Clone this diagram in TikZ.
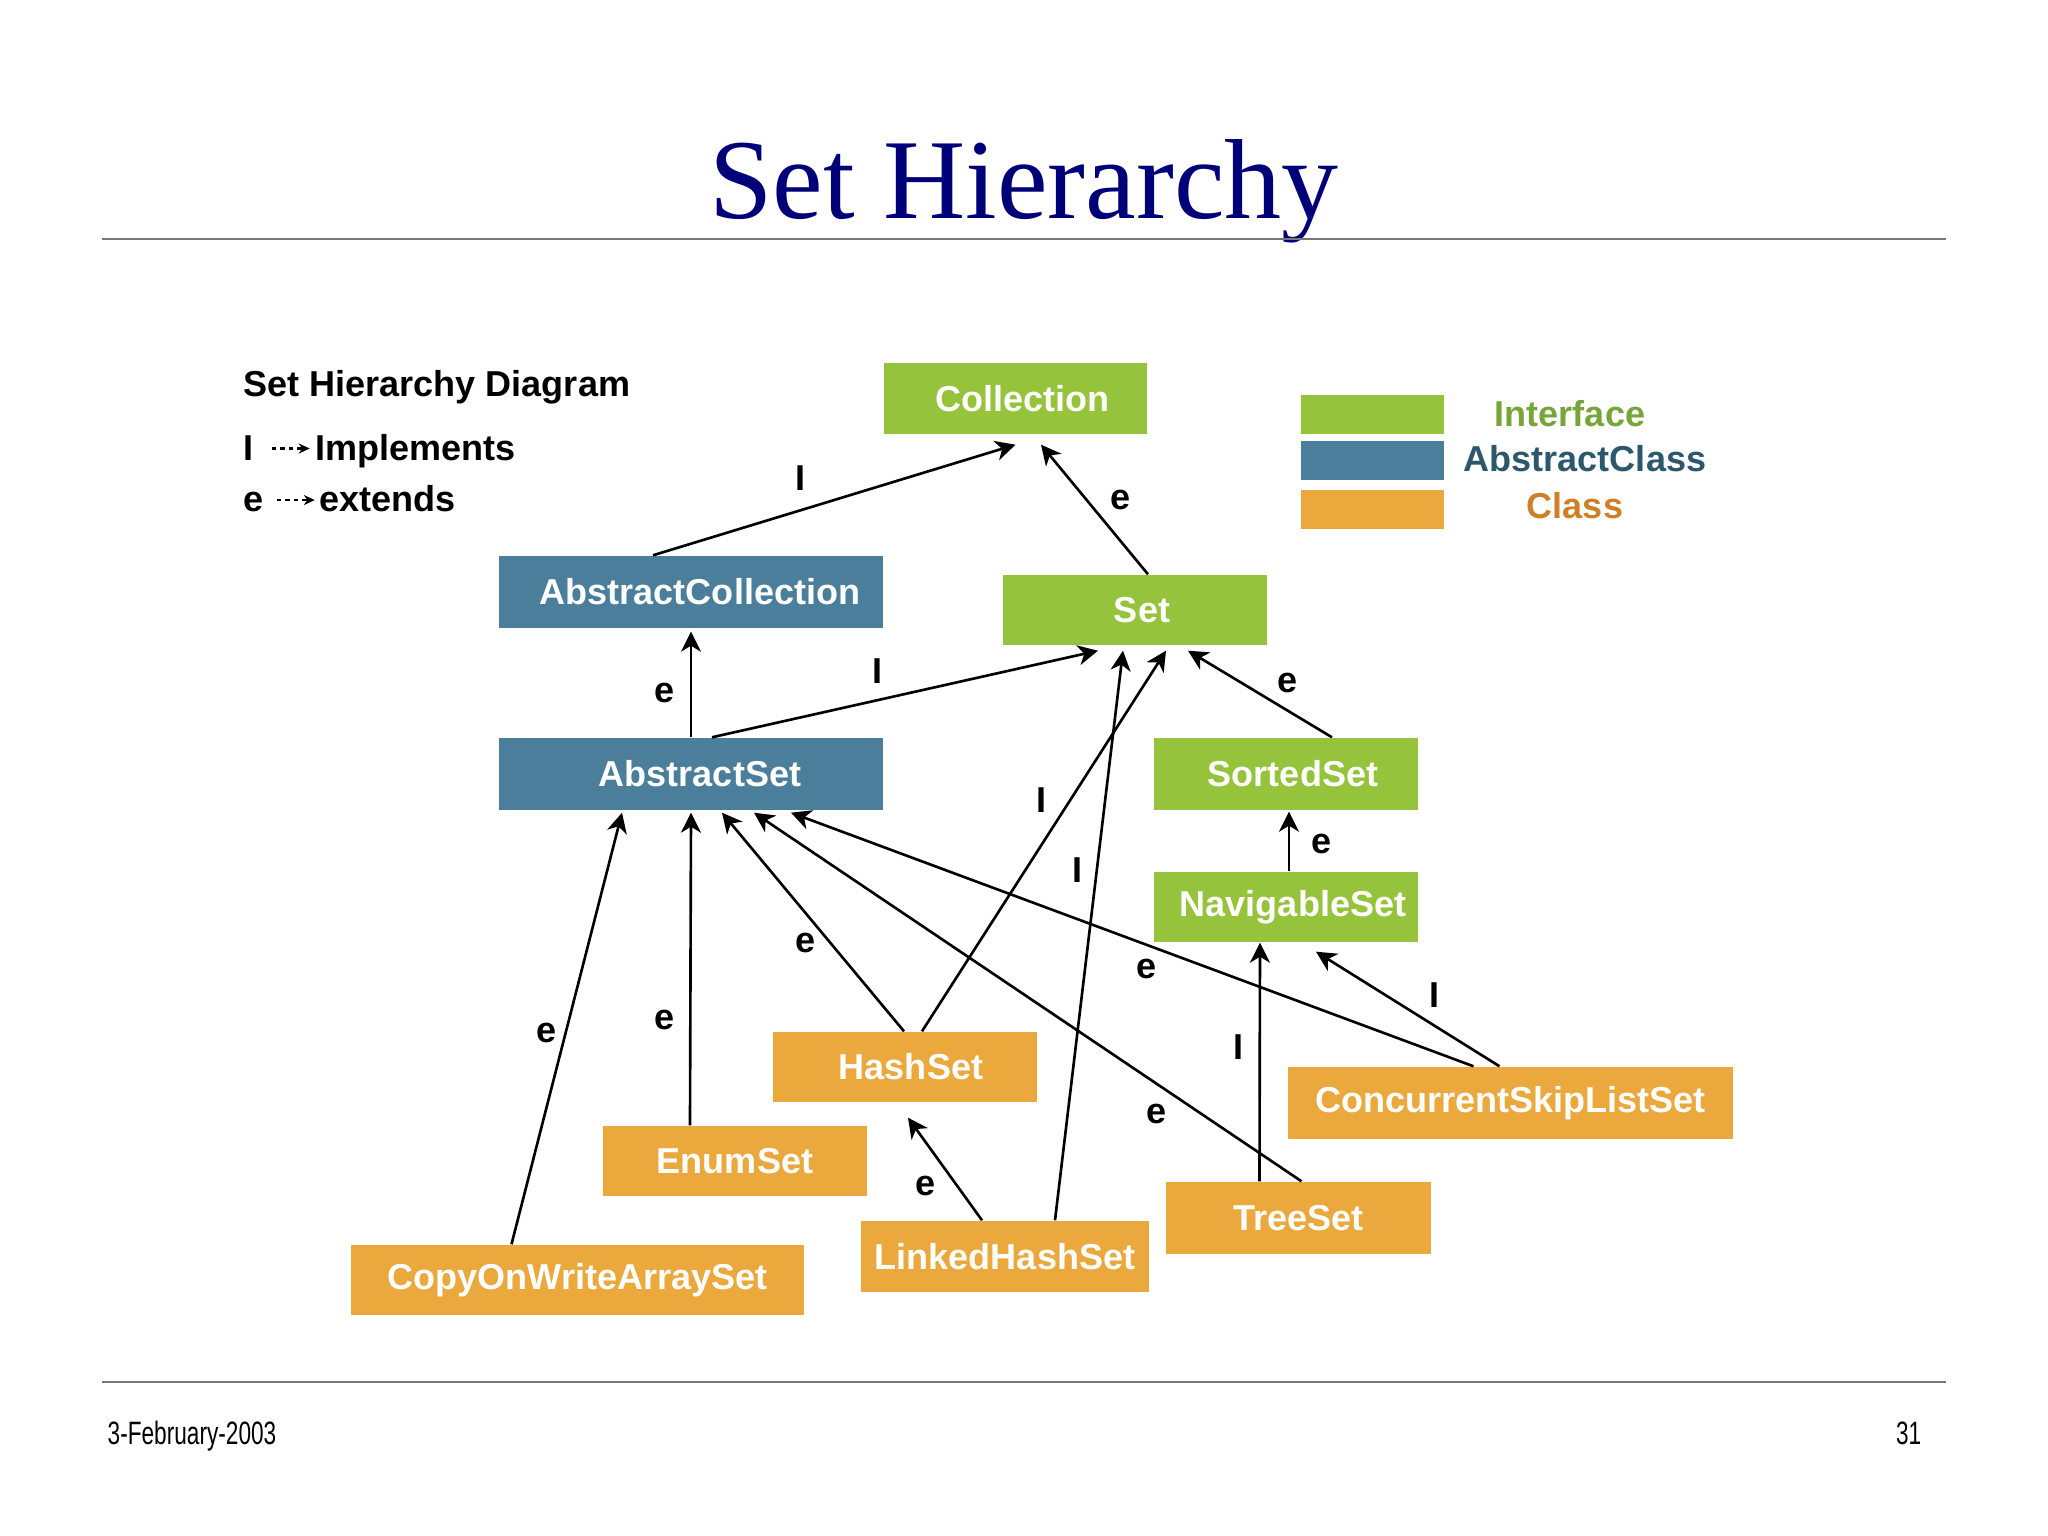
\documentclass[tikz,border=0pt]{standalone}
\usepackage{fontspec}
\usepackage{graphicx}
\setmainfont{Liberation Sans}
\newfontfamily\titlefont{Liberation Serif}
\usetikzlibrary{arrows.meta}

\definecolor{verde}{RGB}{150,195,60}
\definecolor{azul}{RGB}{74,126,155}
\definecolor{naranja}{RGB}{235,168,60}
\definecolor{marino}{RGB}{0,0,120}
\definecolor{txtverde}{RGB}{118,165,58}
\definecolor{txtazul}{RGB}{45,88,108}
\definecolor{txtnaranja}{RGB}{205,128,40}

\newcommand{\dasharrow}{\tikz[baseline=-0.62ex]\draw[dash pattern=on 1.3pt off 1.1pt, line width=0.6pt, -{Stealth[length=0.11cm,width=0.1cm]}] (0,0) -- (0.38,0);}

\begin{document}
\begin{tikzpicture}

	%STYLES
	\tikzstyle{every node}=[font=\fontsize{10.25}{12}\selectfont\bfseries]
	\tikzstyle{iface} = [fill=verde, text=white, minimum width=2.64cm, minimum height=0.71cm, inner sep=0pt, execute at begin node=\hspace*{0.14cm}]
	\tikzstyle{abst} = [fill=azul, text=white, minimum width=3.84cm, minimum height=0.72cm, inner sep=0pt, execute at begin node=\hspace*{0.18cm}]
	\tikzstyle{clase} = [fill=naranja, text=white, minimum width=2.64cm, minimum height=0.71cm, inner sep=0pt]
	\tikzstyle{swatch} = [minimum width=1.43cm, minimum height=0.39cm, inner sep=0pt]
	\tikzstyle{etiq} = [inner sep=0pt]
	\tikzstyle{flecha} = [-{Stealth[length=0.2cm,width=0.2cm,inset=0.06cm]}, line width=0.75pt]
	\tikzstyle{regla} = [draw={rgb,255:red,120; green,120; blue,120}, line width=0.6pt]

	\useasboundingbox (0,0) rectangle (20.48,-15.36);

	%HEADER AND FOOTER
	\draw(10.24,-2.19) node[anchor=base, text=marino, font=\titlefont\fontsize{32.4}{36}\selectfont](title){Set Hierarchy};
	\draw[regla] (1.02,-2.39) -- (19.46,-2.39);
	\draw[regla] (1.02,-13.82) -- (19.46,-13.82);
	\draw(1.07,-14.44) node[anchor=base west, inner sep=0pt, font=\fontsize{9.2}{10}\selectfont](date){\scalebox{0.7}[1]{3-February-2003}};
	\draw(19.22,-14.44) node[anchor=base east, inner sep=0pt, font=\fontsize{9.2}{10}\selectfont](page){\scalebox{0.7}[1]{31}};

	%LEGEND
	\draw(2.43,-3.87) node[anchor=west, inner sep=0pt](legtitle){Set Hierarchy Diagram};
	\draw(2.43,-4.51) node[anchor=west, inner sep=0pt](legimpl){I\hspace{0.17cm}\dasharrow\hspace{0.05cm}Implements};
	\draw(2.43,-4.99) node[anchor=west, inner sep=0pt](legext){e\hspace{0.12cm}\dasharrow\hspace{0.04cm}extends};

	\draw(13.725,-4.145) node[swatch, fill=verde](swiface){};
	\draw(13.725,-4.61) node[swatch, fill=azul](swabst){};
	\draw(13.725,-5.10) node[swatch, fill=naranja](swclase){};
	\draw(15.70,-4.14) node[etiq, text=txtverde](kiface){Interface};
	\draw(15.85,-4.59) node[etiq, text=txtazul](kabst){AbstractClass};
	\draw(15.75,-5.06) node[etiq, text=txtnaranja](kclase){Class};

	%BOXES
	\draw(10.155,-3.985) node[iface, minimum width=2.63cm](Collection){Collection};
	\draw(6.91,-5.92) node[abst](AbstractCollection){AbstractCollection};
	\draw(11.35,-6.10) node[iface, minimum height=0.70cm](Set){Set};
	\draw(6.91,-7.74) node[abst](AbstractSet){AbstractSet};
	\draw(12.86,-7.74) node[iface, minimum height=0.72cm](SortedSet){SortedSet};
	\draw(12.86,-9.07) node[iface, minimum height=0.70cm](NavigableSet){NavigableSet};
	\draw(9.05,-10.67) node[clase, minimum height=0.70cm](HashSet){\hspace*{0.12cm}HashSet};
	\draw(7.35,-11.61) node[clase, minimum height=0.70cm](EnumSet){EnumSet};
	\draw(15.105,-11.03) node[clase, minimum width=4.45cm, minimum height=0.72cm](ConcurrentSkipListSet){ConcurrentSkipListSet};
	\draw(12.985,-12.18) node[clase, minimum width=2.65cm, minimum height=0.72cm](TreeSet){TreeSet};
	\draw(10.05,-12.565) node[clase, minimum width=2.88cm](LinkedHashSet){LinkedHashSet};
	\draw(5.775,-12.80) node[clase, minimum width=4.53cm, minimum height=0.70cm](CopyOnWriteArraySet){CopyOnWriteArraySet};

	%ARROWS
	\draw[flecha] ([xshift=-0.38cm]AbstractCollection.north) -- ([yshift=-0.10cm]Collection.south);
	\draw[flecha] ([xshift=0.13cm]Set.north) -- ([xshift=0.255cm, yshift=-0.10cm]Collection.south);
	\draw[flecha] (AbstractSet.north) -- ([yshift=-0.03cm]AbstractCollection.south);
	\draw[flecha] ([xshift=0.21cm]AbstractSet.north) -- ([xshift=-0.37cm, yshift=-0.05cm]Set.south);
	\draw[flecha] ([xshift=0.17cm]HashSet.north) -- ([xshift=0.31cm, yshift=-0.05cm]Set.south);
	\draw[flecha] ([xshift=0.50cm]LinkedHashSet.north) -- ([xshift=-0.12cm, yshift=-0.05cm]Set.south);
	\draw[flecha] ([xshift=0.46cm]SortedSet.north) -- ([xshift=0.53cm, yshift=-0.05cm]Set.south);
	\draw[flecha] ([xshift=0.03cm]NavigableSet.north) -- ([xshift=0.03cm, yshift=-0.01cm]SortedSet.south);
	\draw[flecha] ([xshift=-0.66cm]CopyOnWriteArraySet.north) -- ([xshift=-0.69cm, yshift=-0.02cm]AbstractSet.south);
	\draw[flecha] ([xshift=-0.45cm]EnumSet.north) -- ([yshift=-0.02cm]AbstractSet.south);
	\draw[flecha] ([xshift=-0.01cm]HashSet.north) -- ([xshift=0.31cm, yshift=-0.02cm]AbstractSet.south);
	\draw[flecha] ([xshift=0.03cm]TreeSet.north) -- ([xshift=0.63cm, yshift=-0.02cm]AbstractSet.south);
	\draw[flecha] ([xshift=-0.37cm]ConcurrentSkipListSet.north) -- ([xshift=1.00cm, yshift=-0.02cm]AbstractSet.south);
	\draw[flecha] ([xshift=-0.39cm]TreeSet.north) -- ([xshift=-0.26cm]NavigableSet.south);
	\draw[flecha] ([xshift=-0.11cm]ConcurrentSkipListSet.north) -- ([xshift=0.30cm, yshift=-0.09cm]NavigableSet.south);
	\draw[flecha] ([xshift=-0.23cm]LinkedHashSet.north) -- ([xshift=0.03cm, yshift=-0.15cm]HashSet.south);

	%ARROW LABELS
	\draw(8.01,-4.78) node[etiq](l1){I};
	\draw(11.21,-5.00) node[etiq](l2){e};
	\draw(6.65,-6.93) node[etiq](l3){e};
	\draw(8.78,-6.71) node[etiq](l4){I};
	\draw(10.41,-8.00) node[etiq](l5){I};
	\draw(10.77,-8.70) node[etiq](l6){I};
	\draw(12.88,-6.83) node[etiq](l7){e};
	\draw(13.22,-8.44) node[etiq](l8){e};
	\draw(5.47,-10.33) node[etiq](l9){e};
	\draw(6.65,-10.20) node[etiq](l10){e};
	\draw(8.06,-9.43) node[etiq](l11){e};
	\draw(11.57,-11.14) node[etiq](l12){e};
	\draw(11.47,-9.69) node[etiq](l13){e};
	\draw(12.38,-10.47) node[etiq](l14){I};
	\draw(14.34,-9.95) node[etiq](l15){I};
	\draw(9.26,-11.86) node[etiq](l16){e};
\end{tikzpicture}
\end{document}
